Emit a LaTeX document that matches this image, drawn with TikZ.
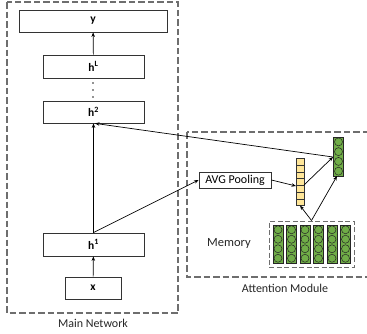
\documentclass[tikz,border=0pt]{standalone}
\usepackage{fontspec}
\setmainfont{Carlito}
\usetikzlibrary{arrows.meta}
\definecolor{vecgreen}{RGB}{112,173,71}
\definecolor{vecyellow}{RGB}{255,230,153}
\definecolor{dashgray}{RGB}{110,110,110}
\tikzset{
  layer/.style={draw=black!80,line width=0.8pt,fill=white,inner sep=0pt,font=\fontsize{11.5}{13}\selectfont\bfseries},
  region/.style={draw=dashgray,line width=1.2pt,dash pattern=on 6.5pt off 3pt},
  arr/.style={line width=0.7pt,-{Stealth[length=4.5pt,width=3.5pt]}},
  lbl/.style={font=\fontsize{12}{14}\selectfont,text=black!85},
  cell/.style={draw=black!80,line width=0.5pt},
  gcol/.style={draw=black!85,line width=0.7pt,fill=vecgreen,minimum width=10pt,inner sep=0pt},
  circ/.style={draw=black!85,line width=0.5pt,fill=vecgreen}
}
\begin{document}
\begin{tikzpicture}[x=1pt,y=-1pt]
\useasboundingbox (0,0) rectangle (367,333);
\clip (0,0) rectangle (367,333);
% regions
\draw[region] (7,2) rectangle (178,313);
\draw[region] (187,132) rectangle (380,277);
\node[lbl] (mainlbl) at (93,323) {Main Network};
\node[lbl] (attlbl) at (285,288) {Attention Module};
% main network
\node[layer,minimum width=148pt,minimum height=22pt] (y) at (93,21) {y};
\node[layer,minimum width=101pt,minimum height=23pt] (hL) at (93.5,66.5) {h\textsuperscript{L}};
\node[layer,minimum width=101pt,minimum height=22pt] (h2) at (93.5,112) {h\textsuperscript{2}};
\node[layer,minimum width=101pt,minimum height=23pt] (h1) at (93.5,244.5) {h\textsuperscript{1}};
\node[layer,minimum width=56pt,minimum height=22pt] (x) at (93,288) {x};
\foreach \yy in {83,90,97} \fill[black!85] (93,\yy) circle (0.8pt);
\draw[arr] (x) -- (h1);
\draw[arr] (hL) -- (y);
\draw[arr] (h1.north) -- (h2.south);
% attention module
\node[layer,font=\fontsize{12}{14}\selectfont,minimum width=72pt,minimum height=16pt] (avg) at (235,180) {AVG Pooling};
% yellow vector
\node[draw=black!80,line width=0.7pt,fill=vecyellow,minimum width=8pt,minimum height=47pt,inner sep=0pt] (yv) at (300,182) {};
\foreach \k in {1,...,6} \draw[cell] (296,{158.5+\k*6.714}) -- (304,{158.5+\k*6.714});
% green output vector
\node[gcol,minimum height=39pt] (gv) at (338.5,156.5) {};
\foreach \k in {0,...,3} \draw[circ] (338.5,{141.9+\k*9.75}) circle (4pt);
% memory
\node[region,line width=1pt,dash pattern=on 5pt off 2.5pt,minimum width=85pt,minimum height=46pt,inner sep=0pt] (mem) at (311.5,244) {};
\foreach \c in {0,...,5} {
  \node[gcol,minimum height=38pt] (m\c) at ({278+\c*13.5},244) {};
  \foreach \k in {0,...,3} \draw[circ] ({278+\c*13.5},{229.75+\k*9.5}) circle (4pt);
}
\node[lbl,font=\fontsize{12.5}{14}\selectfont] (memlbl) at (229,243) {Memory};
% connections
\coordinate (gin) at (333,157);
\coordinate (ylo) at (300,205.5);
\coordinate (yhi) at (304,185);
\coordinate (yin) at (296,186);
\coordinate (gbot) at (337,176);
\draw[arr] (h1.north) -- (avg.west);
\draw[arr] (avg.east) -- (yin);
\draw[arr] (yhi) -- (gin);
\draw[arr] (mem.north) -- (ylo);
\draw[arr] (mem.north) -- (gbot);
\draw[arr] (gin) -- ([xshift=1.5pt]h2.south);
\end{tikzpicture}
\end{document}
